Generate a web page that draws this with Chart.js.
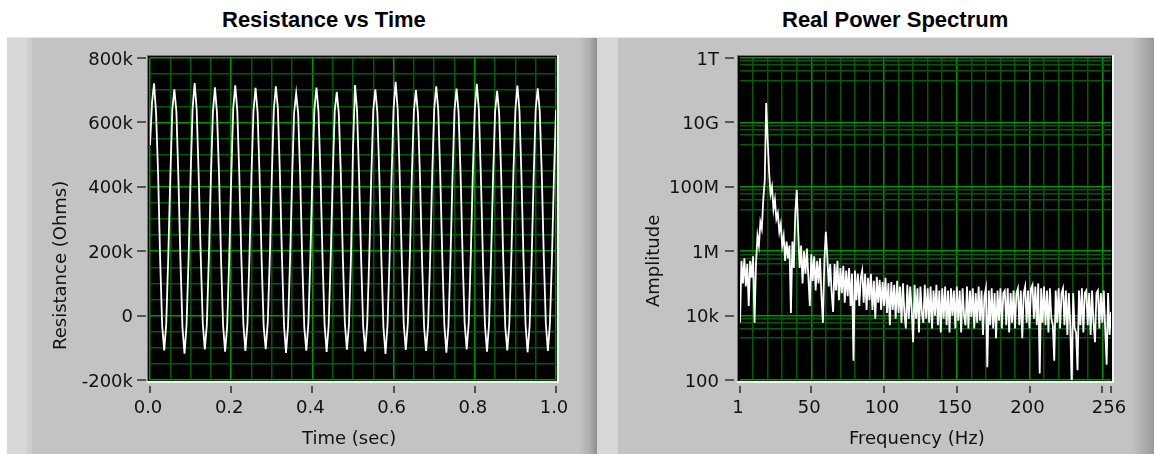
<!DOCTYPE html>
<html>
<head>
<meta charset="utf-8">
<title>Resistance vs Time / Real Power Spectrum</title>
<script src="https://cdn.jsdelivr.net/npm/chart.js@4.4.1/dist/chart.umd.min.js"></script>
<style>
    html, body { margin: 0; padding: 0; background: #fff; }
    body { position: relative; width: 1154px; height: 454px; overflow: hidden; font-family: "DejaVu Sans", sans-serif; color: #111; }
    .panel { position: absolute; top: 37px; height: 417px; border-top: 1px solid #e6e6e6; box-sizing: border-box; }
    #panelLeft { left: 7px; width: 590px; background: linear-gradient(to right, #d7d7d7 0px, #d7d7d7 20px, #cecece 20px, #cecece 25px, #c3c3c3 25px, #c3c3c3 572px, #b0b0b0 582px, #8f8f8f 590px); }
    #panelRight { left: 597px; width: 557px; background: linear-gradient(to right, #d7d7d7 0px, #d7d7d7 21px, #c3c3c3 21px, #c3c3c3 534px, #ababab 548px, #999 557px); }
    canvas { position: absolute; top: 0; }
    #resChart { left: 0; }
    #specChart { left: 600px; }
    .title { position: absolute; top: 9px; font: bold 22px/22px "Liberation Sans", Arial, sans-serif; color: #000; white-space: nowrap; }
    .axis-title { position: absolute; font: 18px/18px "DejaVu Sans", sans-serif; color: #111; white-space: nowrap; }
    .vertical { transform-origin: 0 0; transform: rotate(-90deg); }
</style>
</head>
<body>
<div class="panel" id="panelLeft"></div>
<div class="panel" id="panelRight"></div>
<div class="title" style="left:222px">Resistance vs Time</div>
<div class="title" style="left:782px">Real Power Spectrum</div>
<canvas id="resChart" width="600" height="454"></canvas>
<canvas id="specChart" width="554" height="454"></canvas>
<div class="axis-title" style="left:302px; top:429px">Time (sec)</div>
<div class="axis-title" style="left:849px; top:429px">Frequency (Hz)</div>
<div class="axis-title vertical" style="left:51px; top:350px">Resistance (Ohms)</div>
<div class="axis-title vertical" style="left:644px; top:307px">Amplitude</div>

<script>
//
// Data
//

// resistance trace, one sample every 5 ms, values in kOhm
const sampleStep = 0.005
const resistanceK = [
    530, 662, 721, 628, 438, 176, -32, -108, -25, 182, 428, 641,
    703, 634, 425, 170, -38, -118, -30, 175, 436, 645,
    722, 640, 430, 181, -24, -105, -28, 180, 433, 632,
    709, 629, 441, 174, -30, -112, -35, 172, 427, 644,
    715, 636, 434, 179, -27, -110, -26, 184, 439, 638,
    707, 631, 428, 172, -34, -104, -22, 177, 431, 640,
    712, 642, 437, 183, -29, -116, -33, 176, 425, 630,
    690, 626, 429, 170, -36, -109, -27, 181, 437, 643,
    708, 634, 432, 177, -28, -113, -31, 173, 429, 636,
    695, 628, 440, 180, -25, -106, -29, 178, 520,
    716, 637, 431, 176, -31, -111, -26, 179, 434, 639,
    703, 630, 427, 171, -37, -119, -30, 174, 430, 644,
    726, 641, 436, 182, -26, -107, -24, 183, 438, 635,
    700, 627, 429, 173, -33, -110, -28, 177, 432, 641,
    712, 638, 433, 178, -29, -115, -34, 172, 426, 637,
    705, 632, 439, 181, -24, -105, -23, 180, 435, 642,
    720, 639, 430, 175, -30, -112, -29, 176, 428, 633,
    698, 629, 435, 179, -35, -108, -27, 182, 437, 640,
    714, 636, 428, 173, -28, -114, -32, 174, 431, 643,
    706, 633, 437, 180, -26, -110, -25, 178, 433, 638,
]

// power spectrum, one bin per Hz starting at 1 Hz
const firstBin = 1
const spectrumAmp = [
    6e3, 5e5, 1e5, 6e5, 8e4, 4e5, 2e4, 5e5, 1.5e5, 7e5,
    6e3, 4e5, 3e6, 1.5e6, 8e6, 5e6, 4e7, 1.5e8, 4e10, 3e9,
    3e8, 6e7, 1e8, 2e7, 4e7, 1e7, 1.5e7, 4e6, 7e6, 1.5e6,
    3e6, 5e5, 2e6, 6e5, 1.5e6, 1.2e4, 2e6, 3e5, 1.5e7, 8e7,
    4e6, 3e5, 1.5e6, 1e5, 1e6, 2e5, 1.2e6, 1.5e5, 2e4, 8e5,
    1.2e5, 7e5, 6e4, 5e5, 1e5, 6e5, 4e4, 6e3, 5e5, 4e6,
    7e5, 8e4, 4e5, 5e4, 1.3e4, 4e5, 6e4, 5e5, 3e4, 3e5,
    5e4, 3.5e5, 2.5e4, 2.5e5, 4e4, 3e5, 2e4, 2e5, 4e2, 2.5e5,
    3e4, 2e5, 2e4, 1.5e5, 2.5e5, 2.5e4, 2e5, 1.5e4, 1.5e5, 3e4,
    2e5, 1.5e4, 1.2e5, 8e3, 1.6e5, 2.5e4, 1.3e5, 1.5e4, 1.1e5, 2e4,
    1.5e5, 1.2e4, 1e5, 5e3, 1.1e5, 1.5e4, 9e4, 8e3, 1.2e5, 1.2e4,
    8e4, 6e3, 1e5, 1.2e4, 4e3, 9e4, 8e3, 8e4, 1.5e4, 1.5e3,
    9e4, 8e3, 7e4, 3e3, 8e4, 1.2e4, 6e3, 9e4, 8e3, 7e4,
    6e3, 8e4, 4e3, 6e4, 1e4, 9e4, 5e3, 6e4, 3e3, 7e4,
    8e3, 8e4, 5e3, 6e4, 3e3, 7e4, 1e4, 6e4, 4e3, 8e4,
    7e3, 6e4, 3e3, 7e4, 1e4, 5e3, 8e4, 4e3, 6e4, 9e3,
    7e4, 4e3, 5e4, 6e3, 8e4, 7e3, 6e4, 2.5e3, 4e4, 7e4,
    2.5e2, 6e4, 5e3, 7e4, 4e3, 5e4, 2e3, 6e4, 7e3, 7e4,
    4e3, 5e4, 6e4, 5e3, 7e4, 3e3, 5e4, 6e3, 6e4, 4e3,
    5e4, 7e4, 5e3, 6e4, 2e3, 5e4, 8e4, 6e3, 6e4, 4e3,
    7e4, 9e4, 8e3, 8e4, 5e3, 1e5, 1.6e2, 7e4, 6e3, 8e4,
    5e3, 6e4, 3e3, 7e4, 8e3, 5e3, 4e2, 6e4, 6e3, 7e4,
    4e3, 5e4, 7e4, 5e3, 6e4, 2.5e3, 5e4, 5e3, 6e1, 5e4,
    4e3, 3e3, 2e2, 6e4, 5e3, 7e4, 3e3, 5e4, 6e4, 5e3,
    5e4, 2.5e3, 6e4, 6e3, 1.5e3, 5e4, 6e4, 4e3, 5e4, 6e3,
    6e4, 4e3, 3e2, 5e4, 2.5e3, 1.3e4,
]

// labelled ticks
const timeTickValues = [ 0, 0.2, 0.4, 0.6, 0.8, 1.0 ]
const timeTickLabels = [ '0.0', '0.2', '0.4', '0.6', '0.8', '1.0' ]
const resTickValues = [ -200, 0, 200, 400, 600, 800 ]
const resTickLabels = [ '-200k', '0', '200k', '400k', '600k', '800k' ]
const freqTickValues = [ 1, 50, 100, 150, 200, 256 ]
const freqTickLabels = [ '1', '50', '100', '150', '200', '256' ]
const freqMarkValues = [ 1, 50, 100, 150, 200, 250, 256 ]
const ampTickValues = [ 1e2, 1e4, 1e6, 1e8, 1e10, 1e12 ]
const ampTickLabels = [ '100', '10k', '1M', '100M', '10G', '1T' ]

// grid lines (major ones drawn brighter)
const timeGrid = [ 0, 0.05, 0.1, 0.15, 0.2, 0.25, 0.3, 0.35, 0.4, 0.45, 0.5,
    0.55, 0.6, 0.65, 0.7, 0.75, 0.8, 0.85, 0.9, 0.95, 1.0 ]
const resGrid = [ -200, -150, -100, -50, 0, 50, 100, 150, 200, 250, 300, 350,
    400, 450, 500, 550, 600, 650, 700, 750, 800 ]
const freqGrid = [ 1, 10, 20, 30, 40, 50, 60, 70, 80, 90, 100, 110, 120, 130,
    140, 150, 160, 170, 180, 190, 200, 210, 220, 230, 240, 250, 256 ]
const freqMajor = [ 50, 100, 150, 200, 250 ]
const ampGrid = [ 1e2, 2e3, 4e3, 6e3, 8e3, 1e4, 2e5, 4e5, 6e5, 8e5, 1e6,
    2e7, 4e7, 6e7, 8e7, 1e8, 2e9, 4e9, 6e9, 8e9, 1e10, 2e11, 4e11, 6e11, 8e11, 1e12 ]

//
// Styling helpers
//

const GRID_MAJOR = 'rgb(0, 150, 0)'
const GRID_MINOR = 'rgb(0, 92, 0)'
const NONE = 'rgba(0, 0, 0, 0)'

Chart.defaults.font.family = '"DejaVu Sans", sans-serif'

const same = (a, b) => Math.abs(a - b) <= 1e-9 * Math.max(1, Math.abs(a))
const has = (list, v) => list.some((t) => same(t, v))

function labelFor (values, labels) {
    return (v) => {
        const i = values.findIndex((t) => same(t, v))
        return i < 0 ? '' : labels[i]
    }
}

function axis ({ type, min, max, grid, major, hidden, values, labels, padding, labelOffset, width, height }) {
    return {
        type: type || 'linear',
        min,
        max,
        afterBuildTicks: (s) => { s.ticks = grid.map((value) => ({ value })) },
        afterFit: (s) => {
            if (width) s.width = width
            if (height) s.height = height
        },
        border: { display: false },
        grid: {
            drawTicks: false,
            lineWidth: 1.5,
            color: (ctx) => {
                const v = ctx.tick ? ctx.tick.value : NaN
                if (hidden && has(hidden, v)) return NONE
                return has(major, v) ? GRID_MAJOR : GRID_MINOR
            },
        },
        ticks: {
            autoSkip: false,
            maxRotation: 0,
            minRotation: 0,
            padding,
            labelOffset,
            color: '#111',
            font: { size: 18 },
            callback: labelFor(values, labels),
        },
    }
}

// black plot area with the sunken bevel, painted under the grid
const labviewFrame = {
    id: 'labviewFrame',
    beforeDraw (chart) {
        const { ctx, chartArea: a } = chart
        const L = a.left - 2, T = a.top - 2, R = a.right + 1, B = a.bottom + 1
        ctx.save()
        ctx.fillStyle = '#000'
        ctx.fillRect(L, T, R - L, B - T)
        ctx.fillStyle = '#767676'
        ctx.fillRect(L - 1, T - 1, R - L + 1, 1)
        ctx.fillRect(L - 1, T - 1, 1, B - T + 1)
        ctx.fillStyle = '#f2f2f2'
        ctx.fillRect(L - 1, B, R - L + 3, 2)
        ctx.fillRect(R, T - 1, 2, B - T + 3)
        ctx.restore()
    },
}

// tick marks sit a little away from the plot, as LabVIEW draws them
const tickMarks = {
    id: 'tickMarks',
    afterDraw (chart, args, opts) {
        const { ctx, chartArea: a, scales: { x, y } } = chart
        ctx.save()
        ctx.strokeStyle = '#333'
        ctx.lineWidth = 1.6
        ctx.beginPath()
        for (const v of opts.yMarks) {
            const py = Math.round(y.getPixelForValue(v))
            ctx.moveTo(a.left + opts.yFrom, py)
            ctx.lineTo(a.left + opts.yTo, py)
        }
        for (const v of opts.xMarks) {
            const px = Math.round(x.getPixelForValue(v))
            ctx.moveTo(px, a.bottom + 6)
            ctx.lineTo(px, a.bottom + 13)
        }
        ctx.stroke()
        ctx.restore()
    },
}

//
// Charts
//

new Chart(document.getElementById('resChart'), {
    type: 'line',
    data: {
        datasets: [ {
            data: resistanceK.map((r, i) => ({ x: i * sampleStep, y: r })),
            borderColor: '#fff',
            borderWidth: 1.8,
            pointRadius: 0,
            tension: 0,
        } ],
    },
    options: {
        responsive: false,
        animation: false,
        devicePixelRatio: 1,
        events: [],
        layout: { padding: { left: 0, top: 58, right: 44, bottom: 0 } },
        plugins: {
            legend: { display: false },
            tooltip: { enabled: false },
            tickMarks: { xMarks: timeTickValues, yMarks: resTickValues, yFrom: -13, yTo: -4 },
        },
        scales: {
            x: axis({ min: 0, max: 1, grid: timeGrid, major: timeTickValues,
                values: timeTickValues, labels: timeTickLabels, padding: 18, labelOffset: -2, height: 74 }),
            y: axis({ min: -200, max: 800, grid: resGrid, major: resTickValues,
                values: resTickValues, labels: resTickLabels, padding: 17, labelOffset: 2, width: 150 }),
        },
    },
    plugins: [ labviewFrame, tickMarks ],
})

new Chart(document.getElementById('specChart'), {
    type: 'line',
    data: {
        datasets: [ {
            data: spectrumAmp.map((a, i) => ({ x: firstBin + i, y: a })),
            borderColor: '#fff',
            borderWidth: 1.8,
            pointRadius: 0,
            tension: 0,
        } ],
    },
    options: {
        responsive: false,
        animation: false,
        devicePixelRatio: 1,
        events: [],
        layout: { padding: { left: 0, top: 58, right: 43, bottom: 0 } },
        plugins: {
            legend: { display: false },
            tooltip: { enabled: false },
            tickMarks: { xMarks: freqMarkValues, yMarks: ampTickValues, yFrom: -15, yTo: -6 },
        },
        scales: {
            x: axis({ min: 1, max: 256, grid: freqGrid, major: freqMajor, hidden: [ 1, 256 ],
                values: freqTickValues, labels: freqTickLabels, padding: 18, labelOffset: -2, height: 74 }),
            y: axis({ type: 'logarithmic', min: 1e2, max: 1e12, grid: ampGrid, major: ampTickValues,
                values: ampTickValues, labels: ampTickLabels, padding: 21, labelOffset: 2, width: 140 }),
        },
    },
    plugins: [ labviewFrame, tickMarks ],
})
</script>
</body>
</html>
